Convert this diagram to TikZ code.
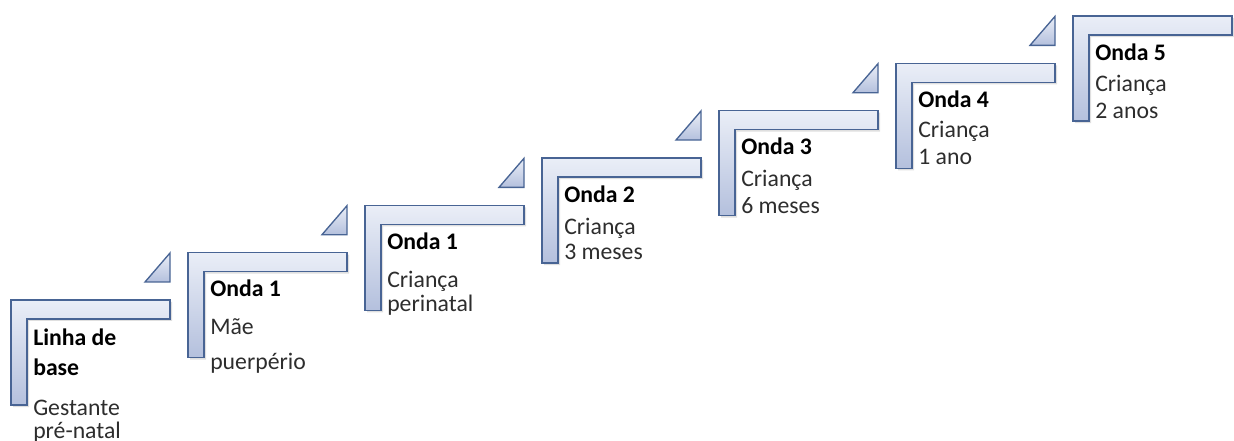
\documentclass[tikz,border=0pt]{standalone}
\usepackage{fontspec}
\setmainfont{Carlito}
\usetikzlibrary{calc,shadows}
\definecolor{stepline}{RGB}{72,100,148}
\definecolor{steptop}{RGB}{234,238,247}
\definecolor{stepbot}{RGB}{180,192,221}
\definecolor{bodytext}{RGB}{45,45,45}

\tikzset{
  stepbar/.style={draw=stepline, line width=1pt, top color=steptop, bottom color=stepbot,
    drop shadow={shadow xshift=1.5pt, shadow yshift=-1.5pt, opacity=0.25}},
  steptri/.style={draw=stepline, line width=1pt, top color=steptop, bottom color=stepbot},
  ttl/.style={anchor=base west, inner sep=0pt, font=\fontsize{17.8}{20}\selectfont\bfseries},
  txt/.style={anchor=base west, inner sep=0pt, text=bodytext, font=\fontsize{17.8}{20}\selectfont}
}

\begin{document}
\begin{tikzpicture}[x=0.75pt,y=-0.75pt]
  \useasboundingbox (0,0) rectangle (1234,441);

  % corner steps
  \foreach \i in {0,...,6} {
    \coordinate (s\i) at ({11+177*\i},{300-47.33*\i});
    \path[stepbar] (s\i) -- ++(159,0) -- ++(0,19) -- ++(-143,0) -- ++(0,86) -- ++(-16,0) -- cycle;
  }
  % small triangles
  \foreach \i in {0,...,5}
    \path[steptri] ($(s\i)+(134,-18)$) -- ++(25,0) -- ++(0,-29) -- cycle;

  % texts
  \node[ttl] (t0) at ($(s0)+(22,45)$) {Linha de};
  \node[ttl] (u0) at ($(s0)+(22,75)$) {base};
  \node[txt] (m0) at ($(s0)+(22,115)$) {Gestante};
  \node[txt] (n0) at ($(s0)+(22,138)$) {pré-natal};
  \foreach \i/\head/\la/\lb/\ya/\yb in {1/Onda 1/Mãe/puerpério/82/117,
      2/Onda 1/Criança/perinatal/82/106, 3/Onda 2/Criança/3 meses/76/101,
      4/Onda 3/Criança/6 meses/76/103, 5/Onda 4/Criança/1 ano/74/101,
      6/Onda 5/Criança/2 anos/75/102} {
    \node[ttl] (t\i) at ($(s\i)+(22,44)$) {\head};
    \node[txt] (m\i) at ($(s\i)+(22,\ya)$) {\la};
    \node[txt] (n\i) at ($(s\i)+(22,\yb)$) {\lb};
  }
\end{tikzpicture}
\end{document}
